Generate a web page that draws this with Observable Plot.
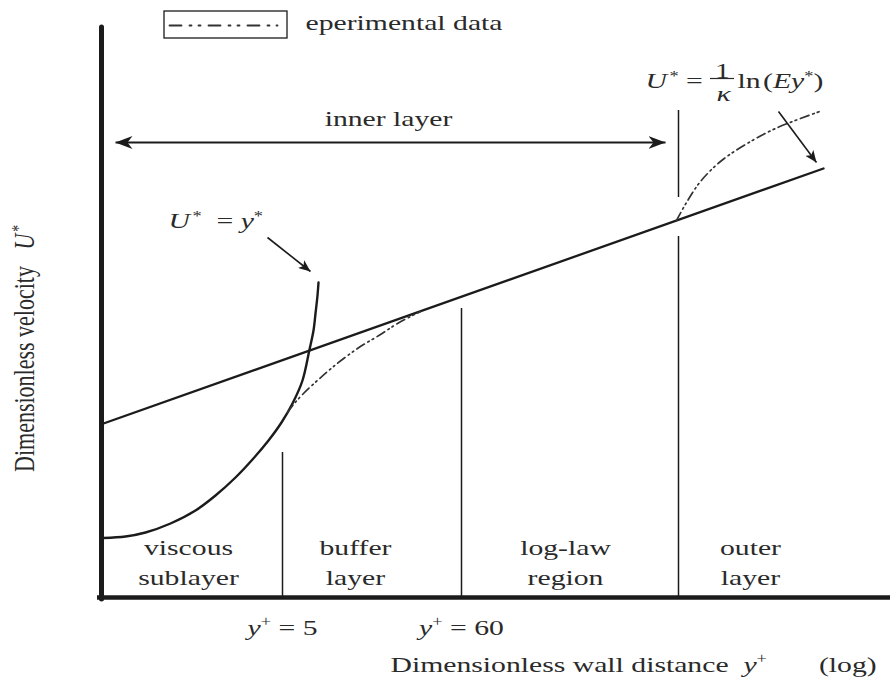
<!DOCTYPE html>
<html><head><meta charset="utf-8">
<script src="https://cdn.jsdelivr.net/npm/d3@7"></script>
<script src="https://cdn.jsdelivr.net/npm/@observablehq/plot@0.6"></script>
<style>
html,body{margin:0;padding:0;background:#fff;}
svg text{white-space:pre;}
</style></head>
<body><div id="chart"></div>
<script>
// Schematic coordinates: x = position along log(y+) axis, y = dimensionless velocity U* (arbitrary units)
const logLaw = [{x: 0.3, y: 17.4}, {x: 72.3, y: 42.9}];
const viscous = [
  {x: 0.3, y: 5.95}, {x: 2.5, y: 6.1}, {x: 4.5, y: 6.5}, {x: 7.0, y: 7.4}, {x: 9.5, y: 8.7},
  {x: 11.5, y: 10.2}, {x: 13.5, y: 12.0}, {x: 15.2, y: 13.8}, {x: 16.8, y: 15.7}, {x: 18.1, y: 17.5},
  {x: 19.2, y: 19.4}, {x: 20.2, y: 21.7}, {x: 20.9, y: 24.8}, {x: 21.3, y: 26.7}, {x: 21.5, y: 28.4},
  {x: 21.7, y: 30.2}, {x: 21.8, y: 31.5}
];
const expLower = [
  {x: 18.7, y: 18.5}, {x: 19.3, y: 19.3}, {x: 20.3, y: 20.4}, {x: 21.8, y: 21.8}, {x: 23.3, y: 23.1},
  {x: 25.7, y: 24.9}, {x: 28.0, y: 26.3}, {x: 29.7, y: 27.4}, {x: 32.0, y: 28.6}
];
const expUpper = [
  {x: 57.6, y: 37.7}, {x: 58.6, y: 39.5}, {x: 60.0, y: 41.6}, {x: 62.0, y: 43.6},
  {x: 64.5, y: 45.3}, {x: 67.5, y: 46.9}, {x: 72.2, y: 48.7}
];
const boundaries = [
  {x: 18.2, y1: 0, y2: 14.5},
  {x: 36.1, y1: 0, y2: 28.9},
  {x: 57.8, y1: 0, y2: 36.1},
  {x: 57.8, y1: 40.0, y2: 48.7}
];
const regionLabels = [
  {x: 8.8, y: 1.3, text: "viscous\nsublayer"},
  {x: 25.5, y: 1.3, text: "buffer\nlayer"},
  {x: 46.5, y: 1.3, text: "log-law\nregion"},
  {x: 65.0, y: 1.3, text: "outer\nlayer"}
];
const tickLabels = [
  {x: 18.2, y: -3.7, text: "_y_^+^ = 5"},
  {x: 36.1, y: -3.7, text: "_y_^+^ = 60"}
];
const innerArrow = [{x1: 1.5, y1: 45.5, x2: 56.5, y2: 45.5}];
const pointerArrows = [
  {x1: 16.7, y1: 36.0, x2: 21.0, y2: 32.6},
  {x1: 67.8, y1: 48.6, x2: 71.6, y2: 43.5}
];
const startLabels = [
  {x: 20.5, y: 56.8, text: "eperimental data"},
  {x: 6.8, y: 37.0, text: "_U_\u200A^*^  = _y_^*^"},
  {x: 54.5, y: 51.0, text: "_U_\u200A^*^ ="},
  {x: 63.7, y: 51.0, text: "ln\u200A(_Ey_^*^)"},
  {x: 29.0, y: -7.4, text: "Dimensionless wall distance  _y_^+^       (log)"}
];
const middleLabels = [
  {x: 28.8, y: 47.2, text: "inner layer"},
  {x: 62.2, y: 52.0, text: "1"},
  {x: 62.3, y: 49.7, text: "_κ_"}
];
const fractionBar = [{x1: 61.0, x2: 63.4, y: 51.9}];
const yLabel = [{x: -6.7, y: 24.9, text: "Dimensionless velocity   _U_\u200A^*^"}];
const legendBox = [{x1: 6.4, x2: 18.7, y1: 55.9, y2: 58.6}];
const legendLine = [{x: 6.9, y: 57.2}, {x: 17.7, y: 57.2}];

const INK = "#1b1b1b";
const TXT = "#2a2a2a";
const FS = 22;
const STRETCH = 1.35;
const DASH = "9,4,1.6,3.4,1.6,4";
const NS = "http://www.w3.org/2000/svg";

function headMarker(len, half, notch) {
  return (color, context) => {
    const doc = (context && context.document) || document;
    const m = doc.createElementNS(NS, "marker");
    m.setAttribute("viewBox", `${-len} ${-half} ${len} ${2 * half}`);
    m.setAttribute("markerWidth", len);
    m.setAttribute("markerHeight", 2 * half);
    m.setAttribute("markerUnits", "userSpaceOnUse");
    m.setAttribute("orient", "auto-start-reverse");
    m.setAttribute("refX", 0);
    m.setAttribute("refY", 0);
    const p = doc.createElementNS(NS, "path");
    p.setAttribute("d", `M${-len},${-half}L0,0L${-len},${half}L${-len + notch},0Z`);
    p.setAttribute("fill", color);
    p.setAttribute("stroke", "none");
    m.appendChild(p);
    return m;
  };
}
const bigHead = headMarker(17, 6.5, 5);
const smallHead = headMarker(12, 5, 3);

const chart = Plot.plot({
  width: 890,
  height: 677,
  margin: 0,
  x: {domain: [-10, 79], axis: null},
  y: {domain: [-8, 59.7], axis: null},
  style: {fontFamily: "'Liberation Serif', 'Times New Roman', serif", background: "white", color: TXT},
  marks: [
    // axes
    Plot.ruleX([0.1], {y1: -0.2, y2: 57.0, stroke: INK, strokeWidth: 5, strokeLinecap: "round"}),
    Plot.ruleY([0], {x1: -0.3, x2: 79, stroke: INK, strokeWidth: 4.5}),
    // region boundaries
    Plot.ruleX(boundaries, {x: "x", y1: "y1", y2: "y2", stroke: INK, strokeWidth: 1.5}),
    // log law
    Plot.line(logLaw, {x: "x", y: "y", stroke: INK, strokeWidth: 2.3}),
    // viscous sublayer U*=y*
    Plot.line(viscous, {x: "x", y: "y", curve: "catmull-rom", stroke: INK, strokeWidth: 2.4}),
    // experimental data
    Plot.line(expLower, {x: "x", y: "y", curve: "catmull-rom", stroke: "#333", strokeWidth: 1.7, strokeDasharray: DASH}),
    Plot.line(expUpper, {x: "x", y: "y", curve: "catmull-rom", stroke: "#333", strokeWidth: 1.7, strokeDasharray: DASH}),
    // arrows
    Plot.link(innerArrow, {x1: "x1", y1: "y1", x2: "x2", y2: "y2", stroke: INK, strokeWidth: 2.2, markerStart: bigHead, markerEnd: bigHead}),
    Plot.link(pointerArrows, {x1: "x1", y1: "y1", x2: "x2", y2: "y2", stroke: INK, strokeWidth: 1.6, markerEnd: smallHead}),
    // fraction bar
    Plot.ruleY(fractionBar, {y: "y", x1: "x1", x2: "x2", stroke: TXT, strokeWidth: 1.2}),
    // legend
    Plot.rect(legendBox, {x1: "x1", x2: "x2", y1: "y1", y2: "y2", fill: "white", stroke: INK, strokeWidth: 1.3}),
    Plot.line(legendLine, {x: "x", y: "y", stroke: "#333", strokeWidth: 1.8, strokeDasharray: "12,8,2,7,2,8"}),
    // texts
    Plot.text(startLabels, {x: "x", y: "y", text: "text", textAnchor: "start", lineAnchor: "bottom", fontSize: FS, fill: TXT}),
    Plot.text(middleLabels, {x: "x", y: "y", text: "text", textAnchor: "middle", lineAnchor: "bottom", fontSize: FS, fill: TXT}),
    Plot.text(regionLabels, {x: "x", y: "y", text: "text", textAnchor: "middle", lineAnchor: "bottom", lineHeight: 1.33, fontSize: FS, fill: TXT}),
    Plot.text(tickLabels, {x: "x", y: "y", text: "text", textAnchor: "middle", lineAnchor: "bottom", fontSize: FS, fill: TXT}),
    Plot.text(yLabel, {x: "x", y: "y", text: "text", textAnchor: "middle", lineAnchor: "bottom", rotate: -90, fontSize: FS, fill: TXT})
  ]
});

document.getElementById("chart").appendChild(chart);

function renderMarkup(t, s) {
  while (t.firstChild) t.removeChild(t.firstChild);
  const parts = s.split(/(\^[^^]*\^|_[^_]*_)/).filter(p => p.length);
  let raised = 0;
  for (const p of parts) {
    const ts = document.createElementNS(NS, "tspan");
    let txt = p, shift = 0;
    if (p[0] === "^") {
      txt = p.slice(1, -1);
      shift = txt === "*" ? 0.3 : 0.4;
      ts.setAttribute("font-size", (FS * 0.62).toFixed(1));
    } else if (p[0] === "_") {
      txt = p.slice(1, -1);
      ts.setAttribute("font-style", "italic");
    }
    ts.textContent = txt;
    const dy = (raised - shift) * FS;
    if (dy) ts.setAttribute("dy", dy.toFixed(1));
    raised = shift;
    t.appendChild(ts);
  }
}

chart.querySelectorAll("text").forEach(t => {
  const tr = t.getAttribute("transform");
  if (tr && /^translate\(/.test(tr)) {
    t.setAttribute("transform", tr.replace(/^(translate\([^)]*\))/, `$1 scale(${STRETCH},1)`));
  } else {
    const x = +(t.getAttribute("x") || 0), y = +(t.getAttribute("y") || 0);
    t.removeAttribute("x"); t.removeAttribute("y");
    t.setAttribute("transform", `translate(${x},${y}) scale(${STRETCH},1)` + (tr ? " " + tr : ""));
  }
  const s = t.textContent;
  if (t.children.length === 0 && /[_^]/.test(s)) renderMarkup(t, s);
});
</script></body></html>
